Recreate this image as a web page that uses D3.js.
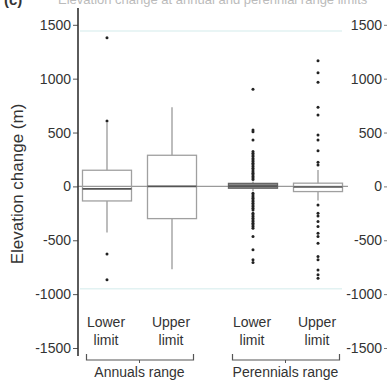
<!DOCTYPE html>
<meta charset="utf-8">
<script src="https://d3js.org/d3.v7.min.js"></script>
<style>
  body { margin: 0; background: white; }
  text { font-family: "Liberation Sans", Arial, sans-serif; fill: #333; }
</style>
<div id="chart"></div>
<script>
// ranges and limits
var groups = ["Annuals range", "Perennials range"];
var limits = ["Lower limit", "Upper limit"];

// box stats, order: annual lower, annual upper, perennial lower, perennial upper
var whiskerLow  = [-428, -768, -45, -132];
var q1          = [-135, -299, -17, -48];
var medians     = [-23, 0, 3, -5];
var q3          = [150, 289, 28, 30];
var whiskerHigh = [589, 735, 45, 153];

var outAnnLower = [1380, 607, -627, -867];
var outAnnUpper = [];
var outPerLower = [902, 524, 508, 431, 323, 308, 292, 277, 260, 245, 230, 215, 200, 185, 169, 153, 137, 122, 107, 92, 78, 63,
                   -63, -79, -95, -110, -126, -141, -156, -172, -187, -203, -218, -249, -264, -280, -295, -311, -326, -342, -357, -373, -388, -466, -589, -682, -707];
var outPerUpper = [1167, 1056, 967, 735, 663, 478, 431, 332, 224, 199,
                   -172, -249, -274, -326, -373, -434, -466, -527, -651, -682, -775, -821, -852];

var yTicks = [-1500, -1000, -500, 0, 500, 1000, 1500];
var refLines = [1443, -950];

var boxes = [];
groups.forEach(function(g, i) {
  limits.forEach(function(l, j) {
    var k = i * 2 + j;
    boxes.push({group: g, limit: l, lo: whiskerLow[k], q1: q1[k], med: medians[k], q3: q3[k], hi: whiskerHigh[k],
                out: [outAnnLower, outAnnUpper, outPerLower, outPerUpper][k]});
  });
});

var W = 388, H = 381;
var svg = d3.select("#chart").append("svg").attr("width", W).attr("height", H);

var y = d3.scaleLinear().domain([-1500, 1500]).range([348, 24.8]);
var outer = d3.scaleBand().domain(groups).range([66.5, 358.5]);
var inner = d3.scaleBand().domain(limits).range([0, outer.bandwidth()]).padding(0.246);
var cx = function(d) { return outer(d.group) + inner(d.limit) + inner.bandwidth() / 2; };
var bw = inner.bandwidth();
var fmt = function(d) { return String(d); };

// cropped panel title
svg.append("text").attr("x", 4).attr("y", 5).style("font-size", "15px").style("font-weight", "bold").text("(c)");
svg.append("text").attr("x", 58).attr("y", 4).style("font-size", "13px").style("fill", "#bbb")
  .text("Elevation change at annual and perennial range limits");

// faint reference lines
svg.selectAll(".ref").data(refLines).enter().append("line")
  .attr("x1", 80).attr("x2", 342)
  .attr("y1", function(d) { return y(d); }).attr("y2", function(d) { return y(d); })
  .attr("stroke", "#e2f2f2").attr("stroke-width", 1.5);

// zero line
svg.append("line").attr("x1", 78).attr("x2", 348).attr("y1", y(0)).attr("y2", y(0))
  .attr("stroke", "#9a9a9a").attr("stroke-width", 1.3);

// left axis
var left = svg.append("g").attr("transform", "translate(78,0)")
  .call(d3.axisLeft(y).tickValues(yTicks).tickSize(5).tickPadding(2).tickFormat(fmt));
left.select(".domain").remove();
left.append("line").attr("x1", 0).attr("x2", 0).attr("y1", 8).attr("y2", 356).attr("stroke", "#333").attr("stroke-width", 1.6);
left.selectAll(".tick line").attr("stroke", "#555");
left.selectAll(".tick text").style("font-size", "14px").style("font-family", "Liberation Sans, Arial").attr("fill", "#333");

// right axis
var right = svg.append("g").attr("transform", "translate(387,0)")
  .call(d3.axisLeft(y).tickValues(yTicks).tickSize(3).tickPadding(2).tickFormat(fmt));
right.select(".domain").remove();
right.selectAll(".tick line").attr("stroke", "#777");
right.selectAll(".tick text").style("font-size", "14px").style("font-family", "Liberation Sans, Arial").attr("fill", "#333");

svg.append("text").attr("transform", "translate(23,184) rotate(-90)").attr("text-anchor", "middle")
  .style("font-size", "17px").text("Elevation change (m)");

// boxes
var b = svg.append("g").selectAll("g").data(boxes).enter().append("g");
b.append("line").attr("x1", cx).attr("x2", cx)
  .attr("y1", function(d) { return y(d.hi); }).attr("y2", function(d) { return y(d.q3); })
  .attr("stroke", "#999").attr("stroke-width", 1.3);
b.append("line").attr("x1", cx).attr("x2", cx)
  .attr("y1", function(d) { return y(d.q1); }).attr("y2", function(d) { return y(d.lo); })
  .attr("stroke", "#999").attr("stroke-width", 1.3);
b.append("rect")
  .attr("x", function(d) { return cx(d) - bw / 2; }).attr("width", bw)
  .attr("y", function(d) { return y(d.q3); })
  .attr("height", function(d) { return y(d.q1) - y(d.q3); })
  .attr("fill", function(d, i) { return i == 2 ? "#888" : "none"; })
  .attr("stroke", function(d, i) { return i == 2 ? "#666" : "#a0a0a0"; })
  .attr("stroke-width", 1.3);
b.append("line")
  .attr("x1", function(d) { return cx(d) - bw / 2; }).attr("x2", function(d) { return cx(d) + bw / 2; })
  .attr("y1", function(d) { return y(d.med); }).attr("y2", function(d) { return y(d.med); })
  .attr("stroke", "#555").attr("stroke-width", 1.6);
b.selectAll("circle").data(function(d) { return d.out.map(function(v) { return {x: cx(d), v: v}; }); })
  .enter().append("circle")
  .attr("cx", function(d) { return d.x; }).attr("cy", function(d) { return y(d.v); })
  .attr("r", 1.5).attr("fill", "#222");

// category labels
var lab = svg.append("g").selectAll("text").data(boxes).enter().append("text")
  .attr("text-anchor", "middle").style("font-size", "14px");
lab.append("tspan").attr("x", function(d) { return cx(d) - 1; }).attr("y", 327)
  .text(function(d) { return d.limit.split(" ")[0]; });
lab.append("tspan").attr("x", function(d) { return cx(d) - 1; }).attr("y", 345)
  .text(function(d) { return d.limit.split(" ")[1]; });

// group brackets
var br = svg.append("g").selectAll("g").data(groups).enter().append("g");
br.append("path")
  .attr("d", function(d) {
    var x0 = outer(d) + 20, x1 = outer(d) + outer.bandwidth() - 19;
    return "M" + x0 + ",354V360H" + x1 + "V354";
  })
  .attr("fill", "none").attr("stroke", "#555").attr("stroke-width", 1.2);
br.append("line")
  .attr("x1", function(d) { return outer(d) + outer.bandwidth() / 2; })
  .attr("x2", function(d) { return outer(d) + outer.bandwidth() / 2; })
  .attr("y1", 360).attr("y2", 363).attr("stroke", "#555");
br.append("text")
  .attr("x", function(d) { return outer(d) + outer.bandwidth() / 2; })
  .attr("y", 377).attr("text-anchor", "middle").style("font-size", "14px")
  .text(function(d) { return d; });
</script>
